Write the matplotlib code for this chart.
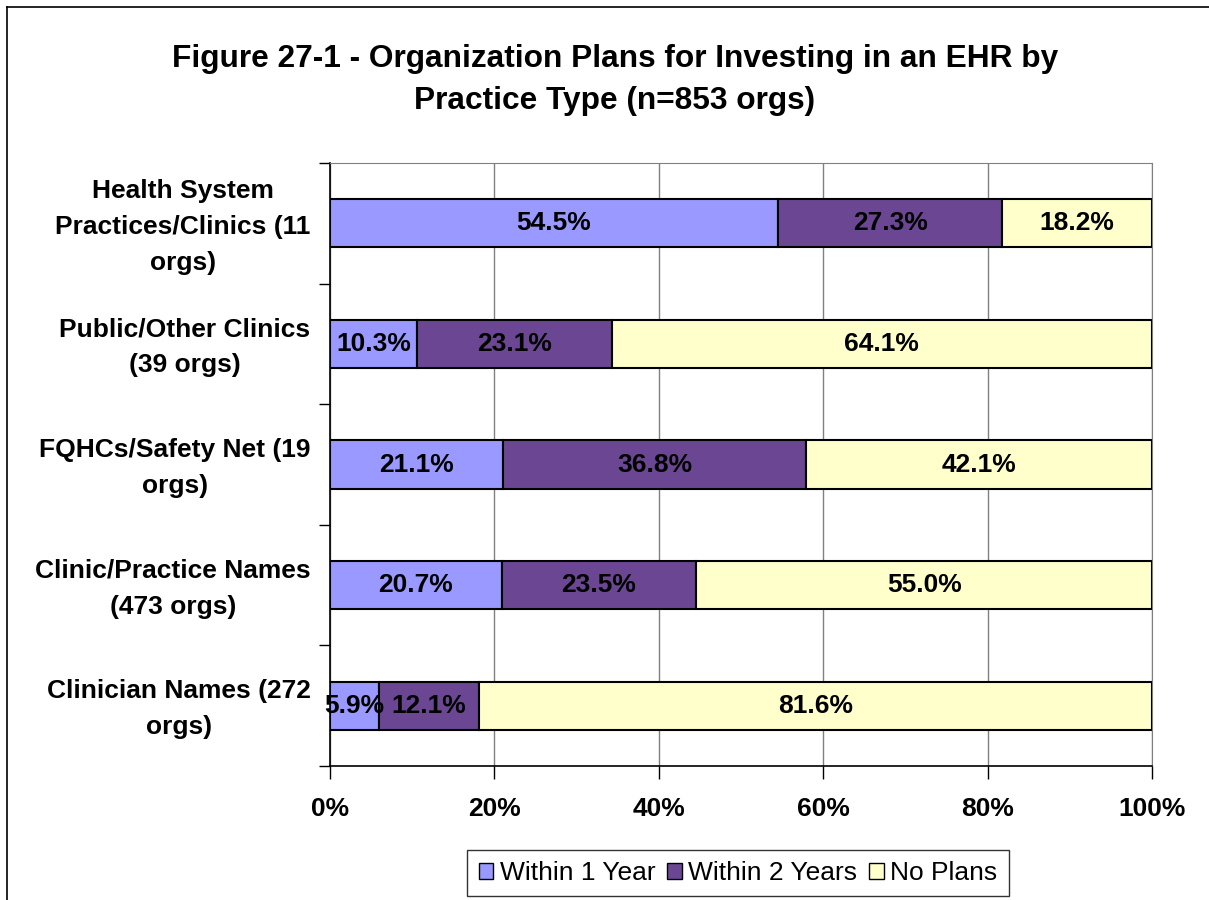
import numpy as np
import matplotlib
matplotlib.use("Agg")
import matplotlib.pyplot as plt
from matplotlib.lines import Line2D

plt.rcParams['font.family'] = ['Liberation Sans', 'DejaVu Sans']

categories = [
    "Health System\nPractices/Clinics (11\norgs)",
    "Public/Other Clinics\n(39 orgs)",
    "FQHCs/Safety Net (19\norgs)",
    "Clinic/Practice Names\n(473 orgs)",
    "Clinician Names (272\norgs)",
]
series_names = ["Within 1 Year", "Within 2 Years", "No Plans"]
within_1 = [54.5, 10.3, 21.1, 20.7, 5.9]
within_2 = [27.3, 23.1, 36.8, 23.5, 12.1]
no_plans = [18.2, 64.1, 42.1, 55.0, 81.6]
colors = ["#9999FF", "#6B4793", "#FFFFCC"]
title = "Figure 27-1 - Organization Plans for Investing in an EHR by\nPractice Type (n=853 orgs)"

W, H = 1209, 900
fig = plt.figure(figsize=(W / 100, H / 100), dpi=100)
ax = fig.add_axes([330 / W, 1 - 766 / H, (1152 - 330) / W, (766 - 163) / H])

# outer chart border (top and left edges only show)
fig.add_artist(Line2D([7 / W, 1], [1 - 7 / H, 1 - 7 / H], color="black", lw=1.2))
fig.add_artist(Line2D([7 / W, 7 / W], [0, 1 - 7 / H], color="black", lw=1.2))

fig.text(615 / W, 1 - 80 / H, title, ha="center", va="center", fontsize=22.8,
         fontweight="bold", linespacing=1.5)

# 100% stacked: each row is scaled to its own total
data = np.array([within_1, within_2, no_plans])
shares = data / data.sum(axis=0) * 100
y = np.arange(len(categories))
left = np.zeros(len(categories))
for k in range(3):
    ax.barh(y, shares[k], left=left, height=0.4, color=colors[k],
            edgecolor="black", linewidth=1.5, label=series_names[k], zorder=3)
    for i in range(len(categories)):
        ax.text(left[i] + shares[k][i] / 2, y[i], f"{data[k][i]:.1f}%",
                ha="center", va="center", fontsize=19, fontweight="bold", zorder=4)
    left += shares[k]

ax.set_xlim(0, 100)
ax.set_ylim(len(categories) - 0.5, -0.5)
ax.set_xticks(np.arange(0, 101, 20))
ax.set_xticklabels([f"{v}%" for v in range(0, 101, 20)], fontsize=19, fontweight="bold")
# category labels sit a touch above the bar centre (their ticks are hidden)
ax.set_yticks(y - 0.04)
ax.set_yticklabels(categories, fontsize=19, fontweight="bold", linespacing=1.62)
for lbl in ax.get_yticklabels():
    lbl.set_multialignment("center")
ax.set_yticks(np.arange(-0.5, len(categories)), minor=True)
ax.tick_params(axis="y", which="major", length=0, pad=14)
ax.tick_params(axis="y", which="minor", length=8, width=1, direction="out")
ax.tick_params(axis="x", length=9, width=1, pad=13)

ax.grid(True, axis="x", color="#808080", linewidth=1, zorder=0)
ax.spines["top"].set_color("#808080")
ax.spines["right"].set_color("#808080")
for s in ["left", "bottom"]:
    ax.spines[s].set_color("black")
    ax.spines[s].set_linewidth(1.2)

leg = fig.legend(loc="center", bbox_to_anchor=(738 / W, 1 - 873 / H), ncol=3,
                 fontsize=19, frameon=True, fancybox=False, handlelength=0.55,
                 handleheight=0.55, handletextpad=0.25, columnspacing=0.45,
                 borderpad=0.42, borderaxespad=0)
leg.get_frame().set_edgecolor("black")
leg.get_frame().set_linewidth(1)
for h in leg.legend_handles:
    h.set_linewidth(1)

fig.savefig("out.png", dpi=100)
